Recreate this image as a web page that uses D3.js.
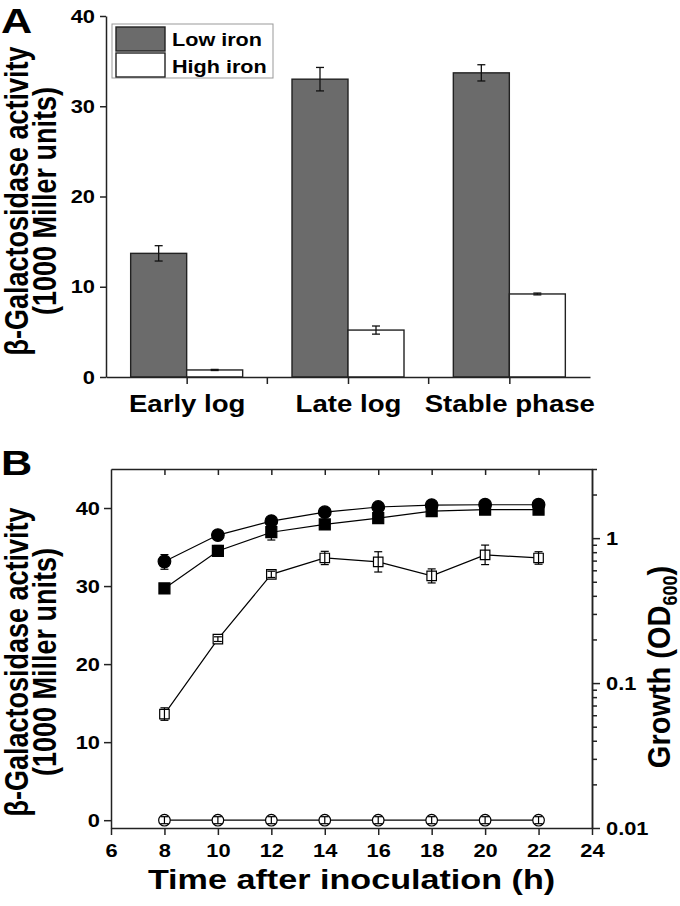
<!DOCTYPE html>
<html><head><meta charset="utf-8">
<script src="https://cdn.jsdelivr.net/npm/d3@7"></script>
<style>
body{margin:0;background:#fff}
svg{display:block}
text{font-family:"Liberation Sans",Arial,sans-serif;font-weight:bold;fill:#000}
</style>
</head><body>
<svg id="c" width="680" height="906"></svg>
<script>
// ---------- Panel A data ----------
const phases = ["Early log", "Late log", "Stable phase"];
const conditions = ["Low iron", "High iron"];
const lowIron = [13.7, 33.0, 33.7];
const lowIronErr = [0.85, 1.3, 0.9];
const highIron = [0.78, 5.2, 9.2];
const highIronErr = [0.06, 0.45, 0.1];
const yTicksA = [0, 10, 20, 30, 40];

// ---------- Panel B data ----------
const hours = [8, 10, 12, 14, 16, 18, 20, 22];
const xTicksB = [6, 8, 10, 12, 14, 16, 18, 20, 22, 24];
const yTicksB = [0, 10, 20, 30, 40];
const growthTicks = [0.01, 0.1, 1];
const growthLow = [0.69, 1.05, 1.31, 1.51, 1.64, 1.69, 1.70, 1.70];      // filled circles (OD600)
const growthLowErr = [0.08, 0.07, 0.07, 0.05, 0.04, 0.03, 0.03, 0.03];
const betaLow = [29.7, 34.5, 36.9, 37.9, 38.7, 39.6, 39.8, 39.8];       // filled squares
const betaLowErr = [0.6, 0.7, 1.0, 0.6, 0.6, 0.3, 0.3, 0.3];
const betaHigh = [13.6, 23.2, 31.5, 33.6, 33.1, 31.3, 34.0, 33.6];      // open squares
const betaHighErr = [0.8, 0.3, 0.4, 0.85, 1.3, 0.9, 1.25, 0.8];
const betaControl = [0, 0, 0, 0, 0, 0, 0, 0];                           // open circles
const betaControlErr = [0.45, 0.45, 0.45, 0.45, 0.45, 0.45, 0.45, 0.45];

const svg = d3.select("#c");
const AX = "#222";

function stretch(sel, sx) {
  sel.each(function () {
    const t = d3.select(this);
    const x = +t.attr("x") || 0;
    t.attr("x", x / sx).attr("transform", `scale(${sx},1)`);
  });
}
function styleAxis(g, fs, sx) {
  g.select(".domain").attr("stroke", AX).attr("stroke-width", 1.5);
  g.selectAll(".tick line").attr("stroke", AX).attr("stroke-width", 1.5);
  g.selectAll("text").attr("font-size", fs).attr("font-family", null).attr("fill", "#000");
  stretch(g.selectAll("text"), sx || 1);
}
function hText(g, x, y, str, fs, sx, anchor) {
  return g.append("text").attr("transform", `translate(${x},${y}) scale(${sx},1)`)
    .attr("font-size", fs).attr("text-anchor", anchor || "start").text(str);
}
function vText(g, x, y, str, fs, sy) {
  return g.append("text").attr("transform", `translate(${x},${y}) rotate(-90) scale(1,${sy})`)
    .attr("font-size", fs).attr("text-anchor", "middle").text(str);
}

// ================= Panel A =================
const xA = d3.scalePoint().domain(phases).range([106, 590]).padding(0.5);
const xSub = d3.scaleBand().domain(conditions).range([-56, 56]);
const yA = d3.scaleLinear().domain([0, 40]).range([377, 16]);
const fillA = d3.scaleOrdinal().domain(conditions).range(["#6b6b6b", "#ffffff"]);
const gA = svg.append("g");

const barsA = [];
phases.forEach((p, i) => {
  barsA.push({ p, c: conditions[0], v: lowIron[i], e: lowIronErr[i] });
  barsA.push({ p, c: conditions[1], v: highIron[i], e: highIronErr[i] });
});

gA.selectAll("rect.bar").data(barsA).join("rect").attr("class", "bar")
  .attr("x", d => xA(d.p) + xSub(d.c))
  .attr("width", xSub.bandwidth())
  .attr("y", d => yA(d.v))
  .attr("height", d => yA(0) - yA(d.v))
  .attr("fill", d => fillA(d.c))
  .attr("stroke", AX).attr("stroke-width", 1.4);

const capA = 4;
const eA = gA.selectAll("g.err").data(barsA).join("g").attr("class", "err")
  .attr("stroke", "#111").attr("stroke-width", 1.3);
eA.append("line")
  .attr("x1", d => xA(d.p) + xSub(d.c) + xSub.bandwidth() / 2)
  .attr("x2", d => xA(d.p) + xSub(d.c) + xSub.bandwidth() / 2)
  .attr("y1", d => yA(d.v - d.e)).attr("y2", d => yA(d.v + d.e));
[-1, 1].forEach(s => {
  eA.append("line")
    .attr("x1", d => xA(d.p) + xSub(d.c) + xSub.bandwidth() / 2 - capA)
    .attr("x2", d => xA(d.p) + xSub(d.c) + xSub.bandwidth() / 2 + capA)
    .attr("y1", d => yA(d.v + s * d.e)).attr("y2", d => yA(d.v + s * d.e));
});

const axLA = gA.append("g").attr("transform", `translate(106,0)`)
  .call(d3.axisLeft(yA).tickValues(yTicksA).tickSize(6).tickPadding(5).tickSizeOuter(0));
styleAxis(axLA, 19, 1.15);

const axBA = gA.append("g").attr("transform", `translate(0,377)`)
  .call(d3.axisBottom(xA).tickSize(7).tickPadding(11).tickSizeOuter(0));
styleAxis(axBA, 24, 1.15);
const midA = d3.pairs(phases.map(p => xA(p))).map(([a, b]) => (a + b) / 2);
gA.selectAll("line.minor").data(midA).join("line").attr("class", "minor")
  .attr("x1", d => d).attr("x2", d => d).attr("y1", 377).attr("y2", 384)
  .attr("stroke", AX).attr("stroke-width", 1.5);

// legend
const lg = gA.append("g");
lg.append("rect").attr("x", 112).attr("y", 24).attr("width", 161).attr("height", 54)
  .attr("fill", "#fff").attr("stroke", "#999").attr("stroke-width", 1);
conditions.forEach((c, i) => {
  lg.append("rect").attr("x", 116).attr("y", 27 + i * 26).attr("width", 49).attr("height", 24)
    .attr("fill", fillA(c)).attr("stroke", AX).attr("stroke-width", 1.4);
  hText(lg, 172, 46 + i * 27, c, 18, 1.2);
});

hText(gA, 1, 33, "A", 36, 1.2);
vText(gA, 28, 201, "β-Galactosidase activity", 27, 1.2);
vText(gA, 56, 201, "(1000 Miller units)", 27, 1.2);

// ================= Panel B =================
const xB = d3.scaleLinear().domain([6, 24]).range([111, 592]);
const yB = d3.scaleLinear().domain([-1, 45]).range([828, 469]);
const yG = d3.scaleLog().domain([0.01, 3]).range([828, 469]);
const gB = svg.append("g");

const axBot = gB.append("g").attr("transform", `translate(0,828)`)
  .call(d3.axisBottom(xB).tickValues(xTicksB).tickSize(7).tickPadding(9).tickSizeOuter(0));
styleAxis(axBot, 19, 1.15);
const axTop = gB.append("g").attr("transform", `translate(0,469)`)
  .call(d3.axisTop(xB).tickValues(hours).tickSize(-6).tickFormat("").tickSizeOuter(0));
styleAxis(axTop, 19, 1);
const axL = gB.append("g").attr("transform", `translate(111,0)`)
  .call(d3.axisLeft(yB).tickValues(yTicksB).tickSize(7).tickPadding(4).tickSizeOuter(0));
styleAxis(axL, 19, 1.15);
const axR = gB.append("g").attr("transform", `translate(592,0)`)
  .call(d3.axisRight(yG).tickValues(growthTicks).tickSize(8).tickPadding(6)
    .tickFormat(d3.format("~g")).tickSizeOuter(0));
styleAxis(axR, 19, 1.15);
const minorG = yG.ticks().filter(v => !growthTicks.some(t => Math.abs(t - v) < 1e-9));
const axR2 = gB.append("g").attr("transform", `translate(592,0)`)
  .call(d3.axisRight(yG).tickValues(minorG).tickSize(5).tickFormat("").tickSizeOuter(0));
styleAxis(axR2, 19, 1);

const series = [
  { v: betaControl, e: betaControlErr, s: yB, type: d3.symbolCircle, size: 105, fill: "#fff" },
  { v: betaHigh, e: betaHighErr, s: yB, type: d3.symbolSquare, size: 90, fill: "#fff" },
  { v: betaLow, e: betaLowErr, s: yB, type: d3.symbolSquare, size: 121, fill: "#000" },
  { v: growthLow, e: growthLowErr, s: yG, type: d3.symbolCircle, size: 125, fill: "#000" }
];

series.forEach(sr => {
  const pts = hours.map((t, i) => ({ t, v: sr.v[i], e: sr.e[i] }));
  const line = d3.line().x(d => xB(d.t)).y(d => sr.s(d.v));
  gB.append("path").datum(pts).attr("d", line).attr("fill", "none")
    .attr("stroke", "#000").attr("stroke-width", 1.2);
});
series.forEach(sr => {
  const pts = hours.map((t, i) => ({ t, v: sr.v[i], e: sr.e[i] }));
  gB.append("g").selectAll("path").data(pts).join("path")
    .attr("transform", d => `translate(${xB(d.t)},${sr.s(d.v)})`)
    .attr("d", d3.symbol().type(sr.type).size(sr.size))
    .attr("fill", sr.fill).attr("stroke", "#000").attr("stroke-width", 1.2);
  const cap = 4;
  const ge = gB.append("g").attr("stroke", "#000").attr("stroke-width", 1.2);
  ge.selectAll("line.v").data(pts).join("line").attr("class", "v")
    .attr("x1", d => xB(d.t)).attr("x2", d => xB(d.t))
    .attr("y1", d => sr.s(d.v - d.e)).attr("y2", d => sr.s(d.v + d.e));
  [-1, 1].forEach(sg => {
    ge.selectAll("line.c" + sg).data(pts).join("line")
      .attr("x1", d => xB(d.t) - cap).attr("x2", d => xB(d.t) + cap)
      .attr("y1", d => sr.s(d.v + sg * d.e)).attr("y2", d => sr.s(d.v + sg * d.e));
  });
});

hText(gB, 1, 475, "B", 36, 1.2);
vText(gB, 28, 662, "β-Galactosidase activity", 27, 1.2);
vText(gB, 56, 662, "(1000 Miller units)", 27, 1.2);
hText(gB, (xB.range()[0] + xB.range()[1]) / 2, 889, "Time after inoculation (h)", 28, 1.22, "middle");

const rl = gB.append("text").attr("transform", `translate(670,667) rotate(-90) scale(1,1.1)`)
  .attr("font-size", 29).attr("text-anchor", "middle");
rl.append("tspan").text("Growth (OD");
rl.append("tspan").attr("font-size", 18).attr("dy", 6).text("600");
rl.append("tspan").attr("dy", -6).text(")");
</script>
</body></html>
